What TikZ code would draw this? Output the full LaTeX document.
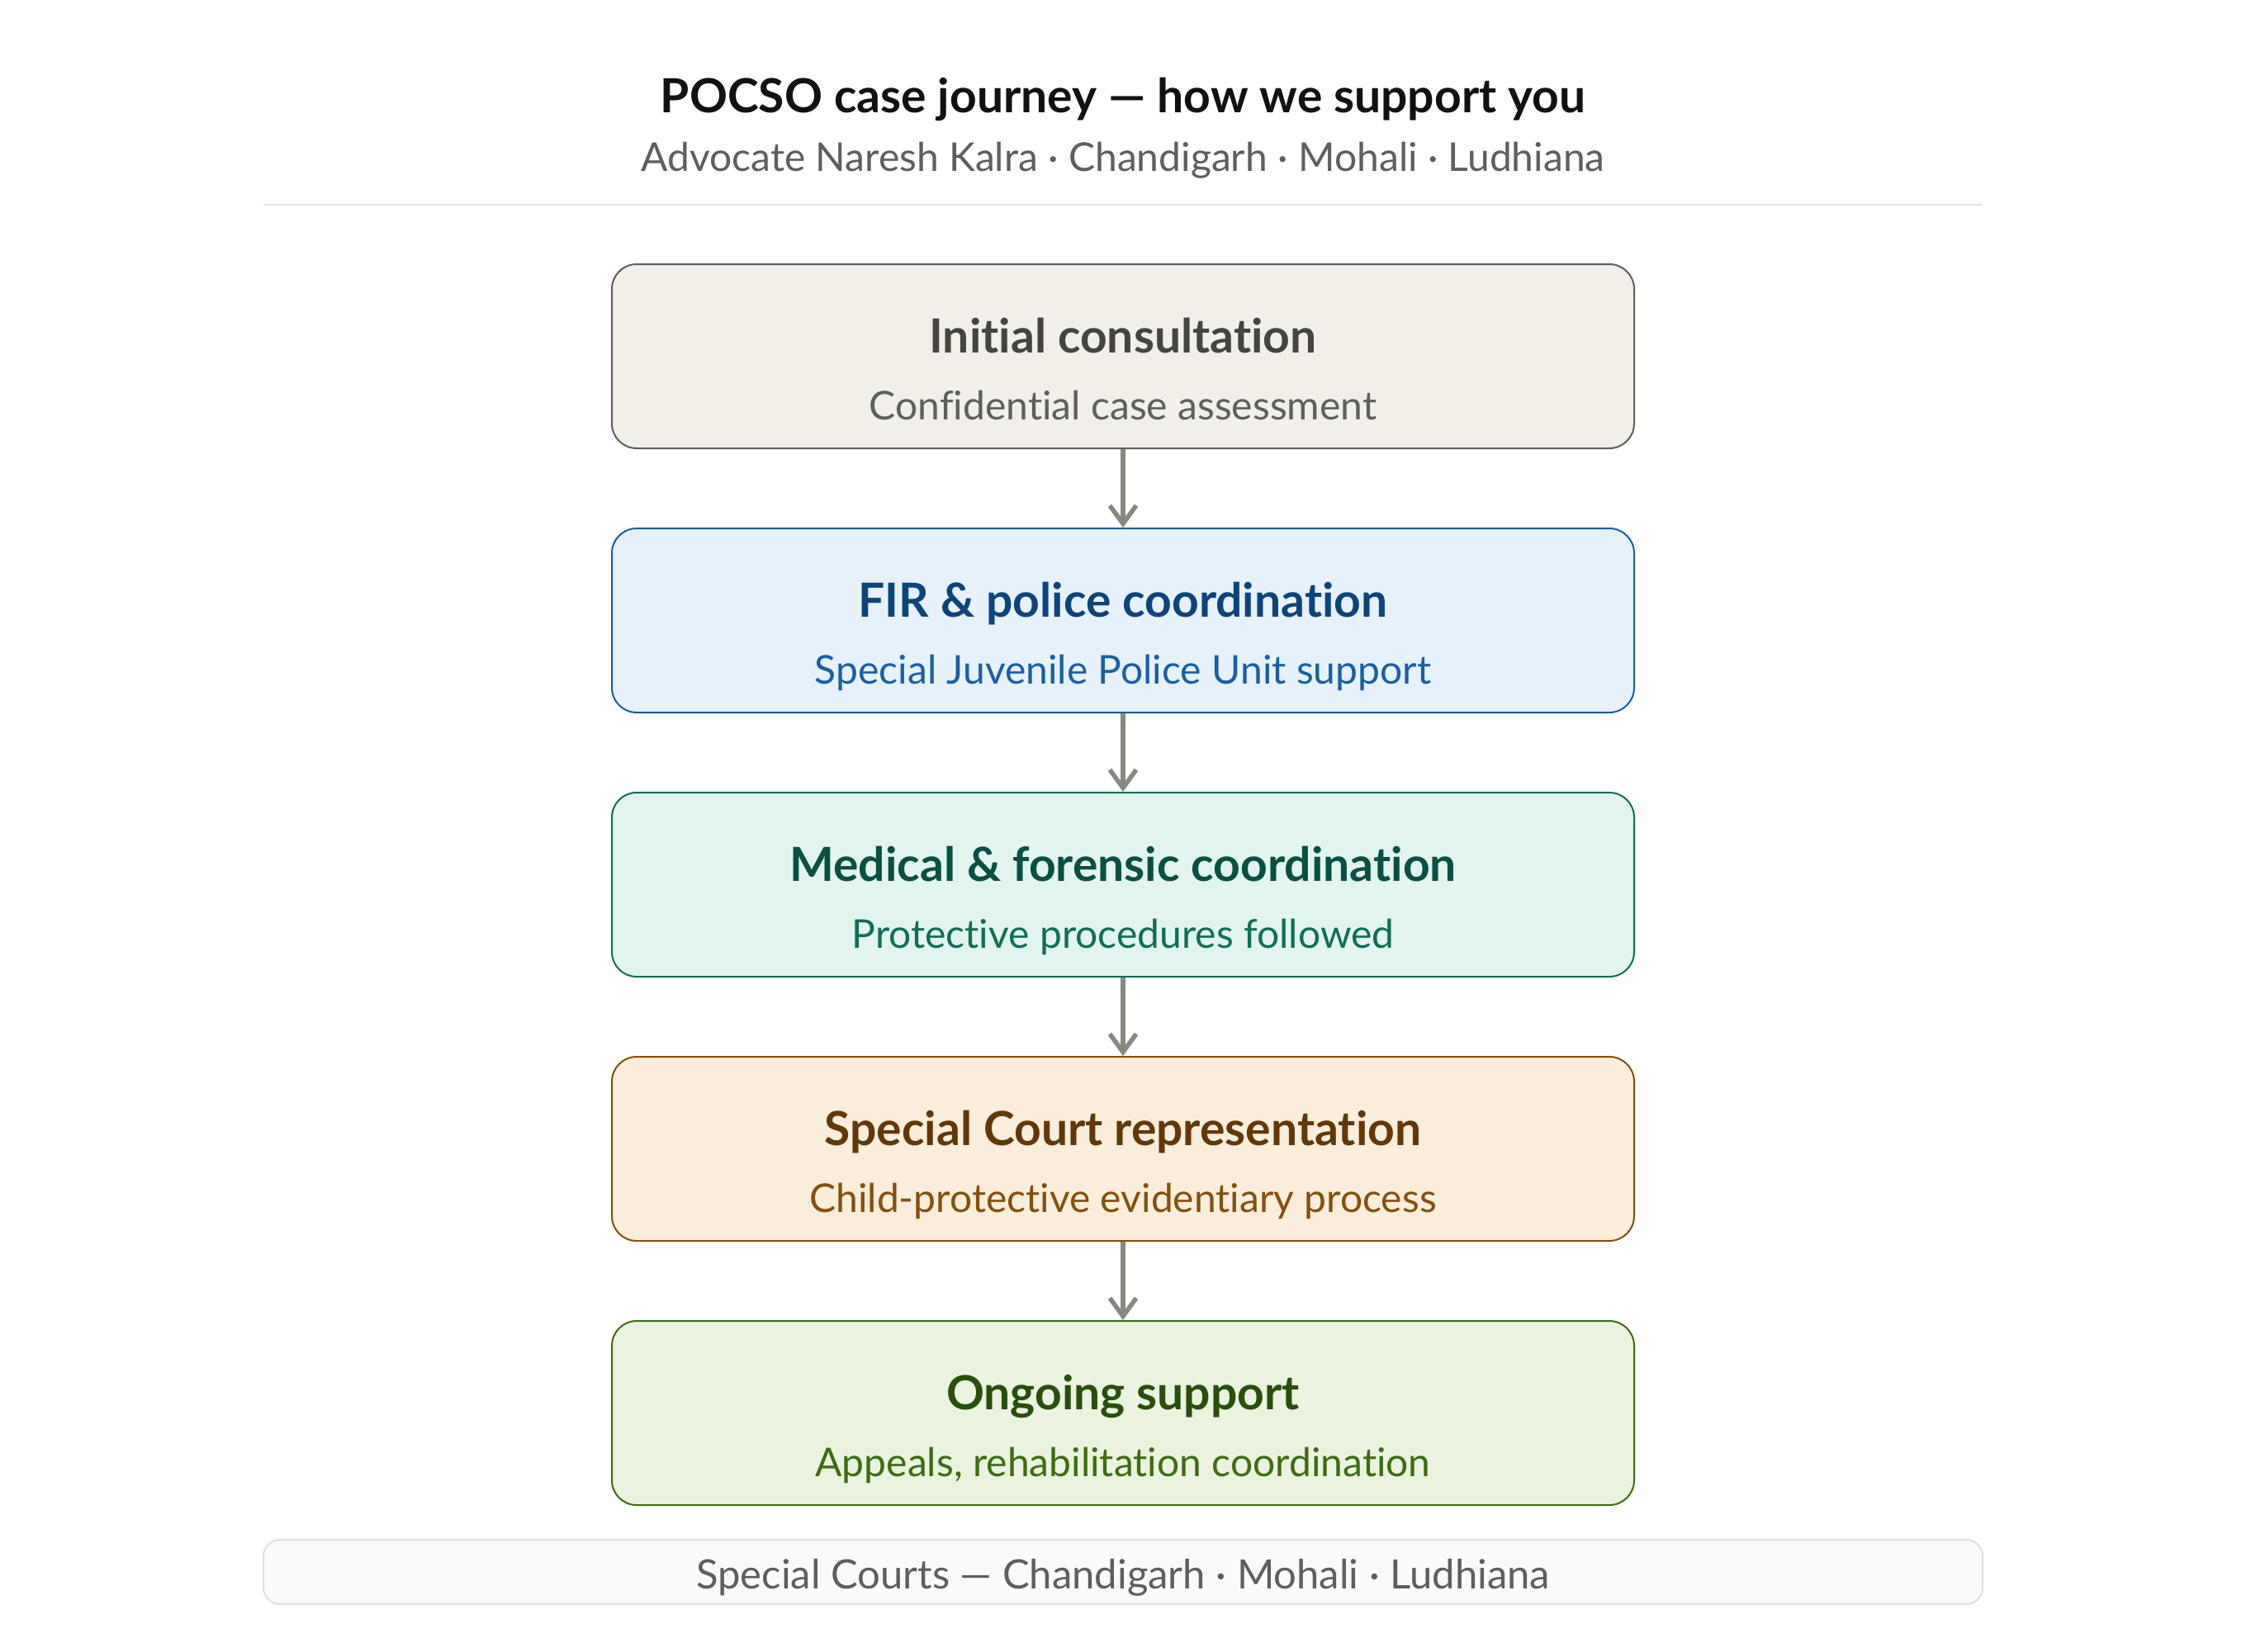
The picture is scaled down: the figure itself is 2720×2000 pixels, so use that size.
\documentclass[tikz,border=0pt]{standalone}
\usepackage{fontspec}
\setmainfont{Lato}[Ligatures=NoCommon]
\usetikzlibrary{arrows.meta}
\definecolor{gFill}{HTML}{F1EFE8}\definecolor{gLine}{HTML}{5F5E5A}\definecolor{gTitle}{HTML}{444441}
\definecolor{bFill}{HTML}{E6F1FB}\definecolor{bLine}{HTML}{185FA5}\definecolor{bTitle}{HTML}{0C447C}
\definecolor{tFill}{HTML}{E1F5EE}\definecolor{tLine}{HTML}{0F6E56}\definecolor{tTitle}{HTML}{085041}
\definecolor{oFill}{HTML}{FAEEDA}\definecolor{oLine}{HTML}{854F0B}\definecolor{oTitle}{HTML}{633806}
\definecolor{lFill}{HTML}{EAF3DE}\definecolor{lLine}{HTML}{3B6D11}\definecolor{lTitle}{HTML}{27500A}
\definecolor{arrowGray}{HTML}{888780}
\definecolor{sepGray}{HTML}{E3E3E0}
\definecolor{footFill}{HTML}{FAFAF8}
\definecolor{footLine}{HTML}{E0E0DC}
\definecolor{headText}{HTML}{111111}
\tikzset{
  stepbox/.style={draw, line width=2pt, rounded corners=30pt, minimum width=1238pt, minimum height=223pt, inner sep=0pt},
  boxtitle/.style={anchor=base, inner sep=0pt, font=\fontsize{57}{62}\selectfont\bfseries},
  boxsub/.style={anchor=base, inner sep=0pt, font=\fontsize{48}{54}\selectfont},
  flow/.style={draw=arrowGray, line width=5.5pt, -{Straight Barb[length=22pt,width=32pt,line width=5.5pt]}},
}
\begin{document}
\begin{tikzpicture}[x=1pt,y=-1pt]
\useasboundingbox[fill=white] (0,0) rectangle (2720,2000);
% header
\node[anchor=base, inner sep=0pt, text=headText, font=\fontsize{57}{62}\selectfont\bfseries] (title) at (1360,136) {POCSO case journey — how we support you};
\node[anchor=base, inner sep=0pt, text=gLine, font=\fontsize{48}{54}\selectfont] (subtitle) at (1360,207) {Advocate Naresh Kalra · Chandigarh · Mohali · Ludhiana};
\coordinate (sepL) at (319,248);
\coordinate (sepR) at (2401,248);
\draw[sepGray, line width=2pt] (sepL) -- (sepR);
% boxes
\node[stepbox, draw=gLine, fill=gFill] (b1) at (1360,431.5) {};
\node[stepbox, draw=bLine, fill=bFill] (b2) at (1360,751.5) {};
\node[stepbox, draw=tLine, fill=tFill] (b3) at (1360,1071.5) {};
\node[stepbox, draw=oLine, fill=oFill] (b4) at (1360,1391.5) {};
\node[stepbox, draw=lLine, fill=lFill] (b5) at (1360,1711.5) {};
% texts
\node[boxtitle, text=gTitle] (b1t) at (1360,427) {Initial consultation};
\node[boxsub, text=gLine] (b1s) at (1360,508) {Confidential case assessment};
\node[boxtitle, text=bTitle] (b2t) at (1360,747) {FIR \& police coordination};
\node[boxsub, text=bLine] (b2s) at (1360,828) {Special Juvenile Police Unit support};
\node[boxtitle, text=tTitle] (b3t) at (1360,1067) {Medical \& forensic coordination};
\node[boxsub, text=tLine] (b3s) at (1360,1148) {Protective procedures followed};
\node[boxtitle, text=oTitle] (b4t) at (1360,1387) {Special Court representation};
\node[boxsub, text=oLine] (b4s) at (1360,1468) {Child-protective evidentiary process};
\node[boxtitle, text=lTitle] (b5t) at (1360,1707) {Ongoing support};
\node[boxsub, text=lLine] (b5s) at (1360,1788) {Appeals, rehabilitation coordination};
% arrows
\draw[flow] (b1.south) -- (b2.north);
\draw[flow] (b2.south) -- (b3.north);
\draw[flow] (b3.south) -- (b4.north);
\draw[flow] (b4.south) -- (b5.north);
% footer
\node[draw=footLine, fill=footFill, line width=2pt, rounded corners=20pt, minimum width=2082pt, minimum height=78pt, inner sep=0pt] (foot) at (1360,1904) {};
\node[anchor=base, inner sep=0pt, text=gLine, font=\fontsize{49}{54}\selectfont] (foottext) at (1360,1924) {Special Courts — Chandigarh · Mohali · Ludhiana};
\end{tikzpicture}
\end{document}
